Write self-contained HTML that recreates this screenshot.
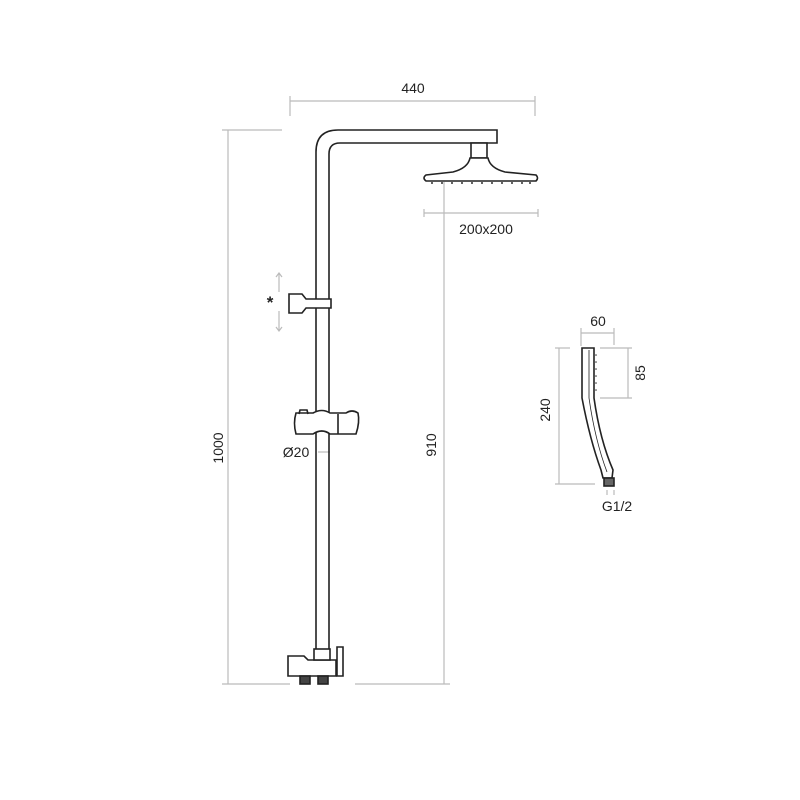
<!DOCTYPE html>
<html><head><style>
html,body{margin:0;padding:0;background:#fff;width:800px;height:800px;overflow:hidden}
text{font-family:"Liberation Sans",sans-serif;font-size:14px;fill:#222}
</style></head><body>
<svg width="800" height="800" viewBox="0 0 800 800" xmlns="http://www.w3.org/2000/svg">
<g stroke="#bbb" stroke-width="1.2" fill="none">
  <line x1="290" y1="101" x2="535" y2="101"/>
  <line x1="290" y1="96" x2="290" y2="116"/>
  <line x1="535" y1="96" x2="535" y2="116"/>
  <line x1="228" y1="130" x2="228" y2="684"/>
  <line x1="222" y1="130" x2="282" y2="130"/>
  <line x1="222" y1="684" x2="290" y2="684"/>
  <line x1="355" y1="684" x2="450" y2="684"/>
  <line x1="444" y1="182" x2="444" y2="684"/>
  <line x1="424" y1="213" x2="538" y2="213"/>
  <line x1="424" y1="209" x2="424" y2="217"/>
  <line x1="538" y1="209" x2="538" y2="217"/>
  <line x1="279" y1="273" x2="279" y2="292"/>
  <line x1="279" y1="311" x2="279" y2="331"/>
  <polyline points="276,277 279,273 282,277"/>
  <polyline points="276,327 279,331 282,327"/>
  <line x1="318" y1="452" x2="330" y2="452"/>
  <line x1="581" y1="333" x2="614" y2="333"/>
  <line x1="581" y1="328" x2="581" y2="346"/>
  <line x1="614" y1="328" x2="614" y2="345"/>
  <line x1="559" y1="348" x2="559" y2="484"/>
  <line x1="555" y1="348" x2="570" y2="348"/>
  <line x1="555" y1="484" x2="595" y2="484"/>
  <line x1="628" y1="348" x2="628" y2="398"/>
  <line x1="600" y1="348" x2="632" y2="348"/>
  <line x1="600" y1="398" x2="632" y2="398"/>
  <line x1="607" y1="490" x2="607" y2="495"/><line x1="614" y1="490" x2="614" y2="495"/>
</g>
<g stroke="#222" stroke-width="1.6" fill="#fff">
  <path d="M316,650 L316,152 Q316,130 338,130 L497,130 L497,143 L340,143 Q329,143 329,154 L329,650" fill="none"/>
  <rect x="471" y="143" width="16" height="15"/>
  <path d="M470,158 L488,158 Q490,168 505,172 L536,175 Q539,178 536,181 L426,181 Q422,178 426,175 L453,172 Q468,168 470,158 Z"/>
  <path d="M289,294 L302,294 L306,299 L331,299 L331,308 L306,308 L302,313 L289,313 Z"/>
  <path d="M296,413 L313,413 Q322,408 330,413 L346,413 Q352,409 358,413 Q360,422 356,434 L346,434 L330,434 Q322,428 313,434 L296,434 Q293,423 296,413 Z"/>
  <line x1="338" y1="414" x2="338" y2="434"/>
  <path d="M299,414 L300,410 L307,410 L308,414" fill="none"/>
  <path d="M288,656 L304,656 L308,660 L336,660 L336,676 L288,676 Z"/>
  <rect x="314" y="649" width="16" height="11"/>
  <path d="M337,676 L337,647 L343,647 L343,676 Z"/>
  <rect x="300" y="676" width="10" height="8" fill="#444"/>
  <rect x="318" y="676" width="10" height="8" fill="#444"/>
  <path d="M582,348 L594,348 L594,398 Q600,440 613,470 L612,478 L603,478 L601,470 Q590,440 582,398 Z"/>
  <path d="M589,350 L589,398 Q595,440 607,472" fill="none" stroke-width="0.8"/>
  <rect x="604" y="478" width="10" height="8" fill="#666"/>
</g>
<g fill="#333">
  <circle cx="432" cy="183" r="1"/><circle cx="442" cy="183" r="1"/><circle cx="452" cy="183" r="1"/><circle cx="462" cy="183" r="1"/><circle cx="472" cy="183" r="1"/><circle cx="482" cy="183" r="1"/><circle cx="492" cy="183" r="1"/><circle cx="502" cy="183" r="1"/><circle cx="512" cy="183" r="1"/><circle cx="522" cy="183" r="1"/><circle cx="530" cy="183" r="1"/>
  <circle cx="596" cy="355" r="0.8"/><circle cx="596" cy="362" r="0.8"/><circle cx="596" cy="369" r="0.8"/><circle cx="596" cy="376" r="0.8"/><circle cx="596" cy="383" r="0.8"/><circle cx="596" cy="390" r="0.8"/>
</g>
<text x="413" y="93" text-anchor="middle">440</text>
<text x="486" y="234" text-anchor="middle">200x200</text>
<text x="270" y="308" text-anchor="middle" style="font-size:17px;font-weight:bold" fill="#234">*</text>
<text x="296" y="457" text-anchor="middle">Ø20</text>
<text transform="translate(223,448) rotate(-90)" text-anchor="middle">1000</text>
<text transform="translate(436,445) rotate(-90)" text-anchor="middle">910</text>
<text x="598" y="326" text-anchor="middle">60</text>
<text transform="translate(550,410) rotate(-90)" text-anchor="middle">240</text>
<text transform="translate(645,373) rotate(-90)" text-anchor="middle">85</text>
<text x="617" y="511" text-anchor="middle">G1/2</text>
</svg>
</body></html>
